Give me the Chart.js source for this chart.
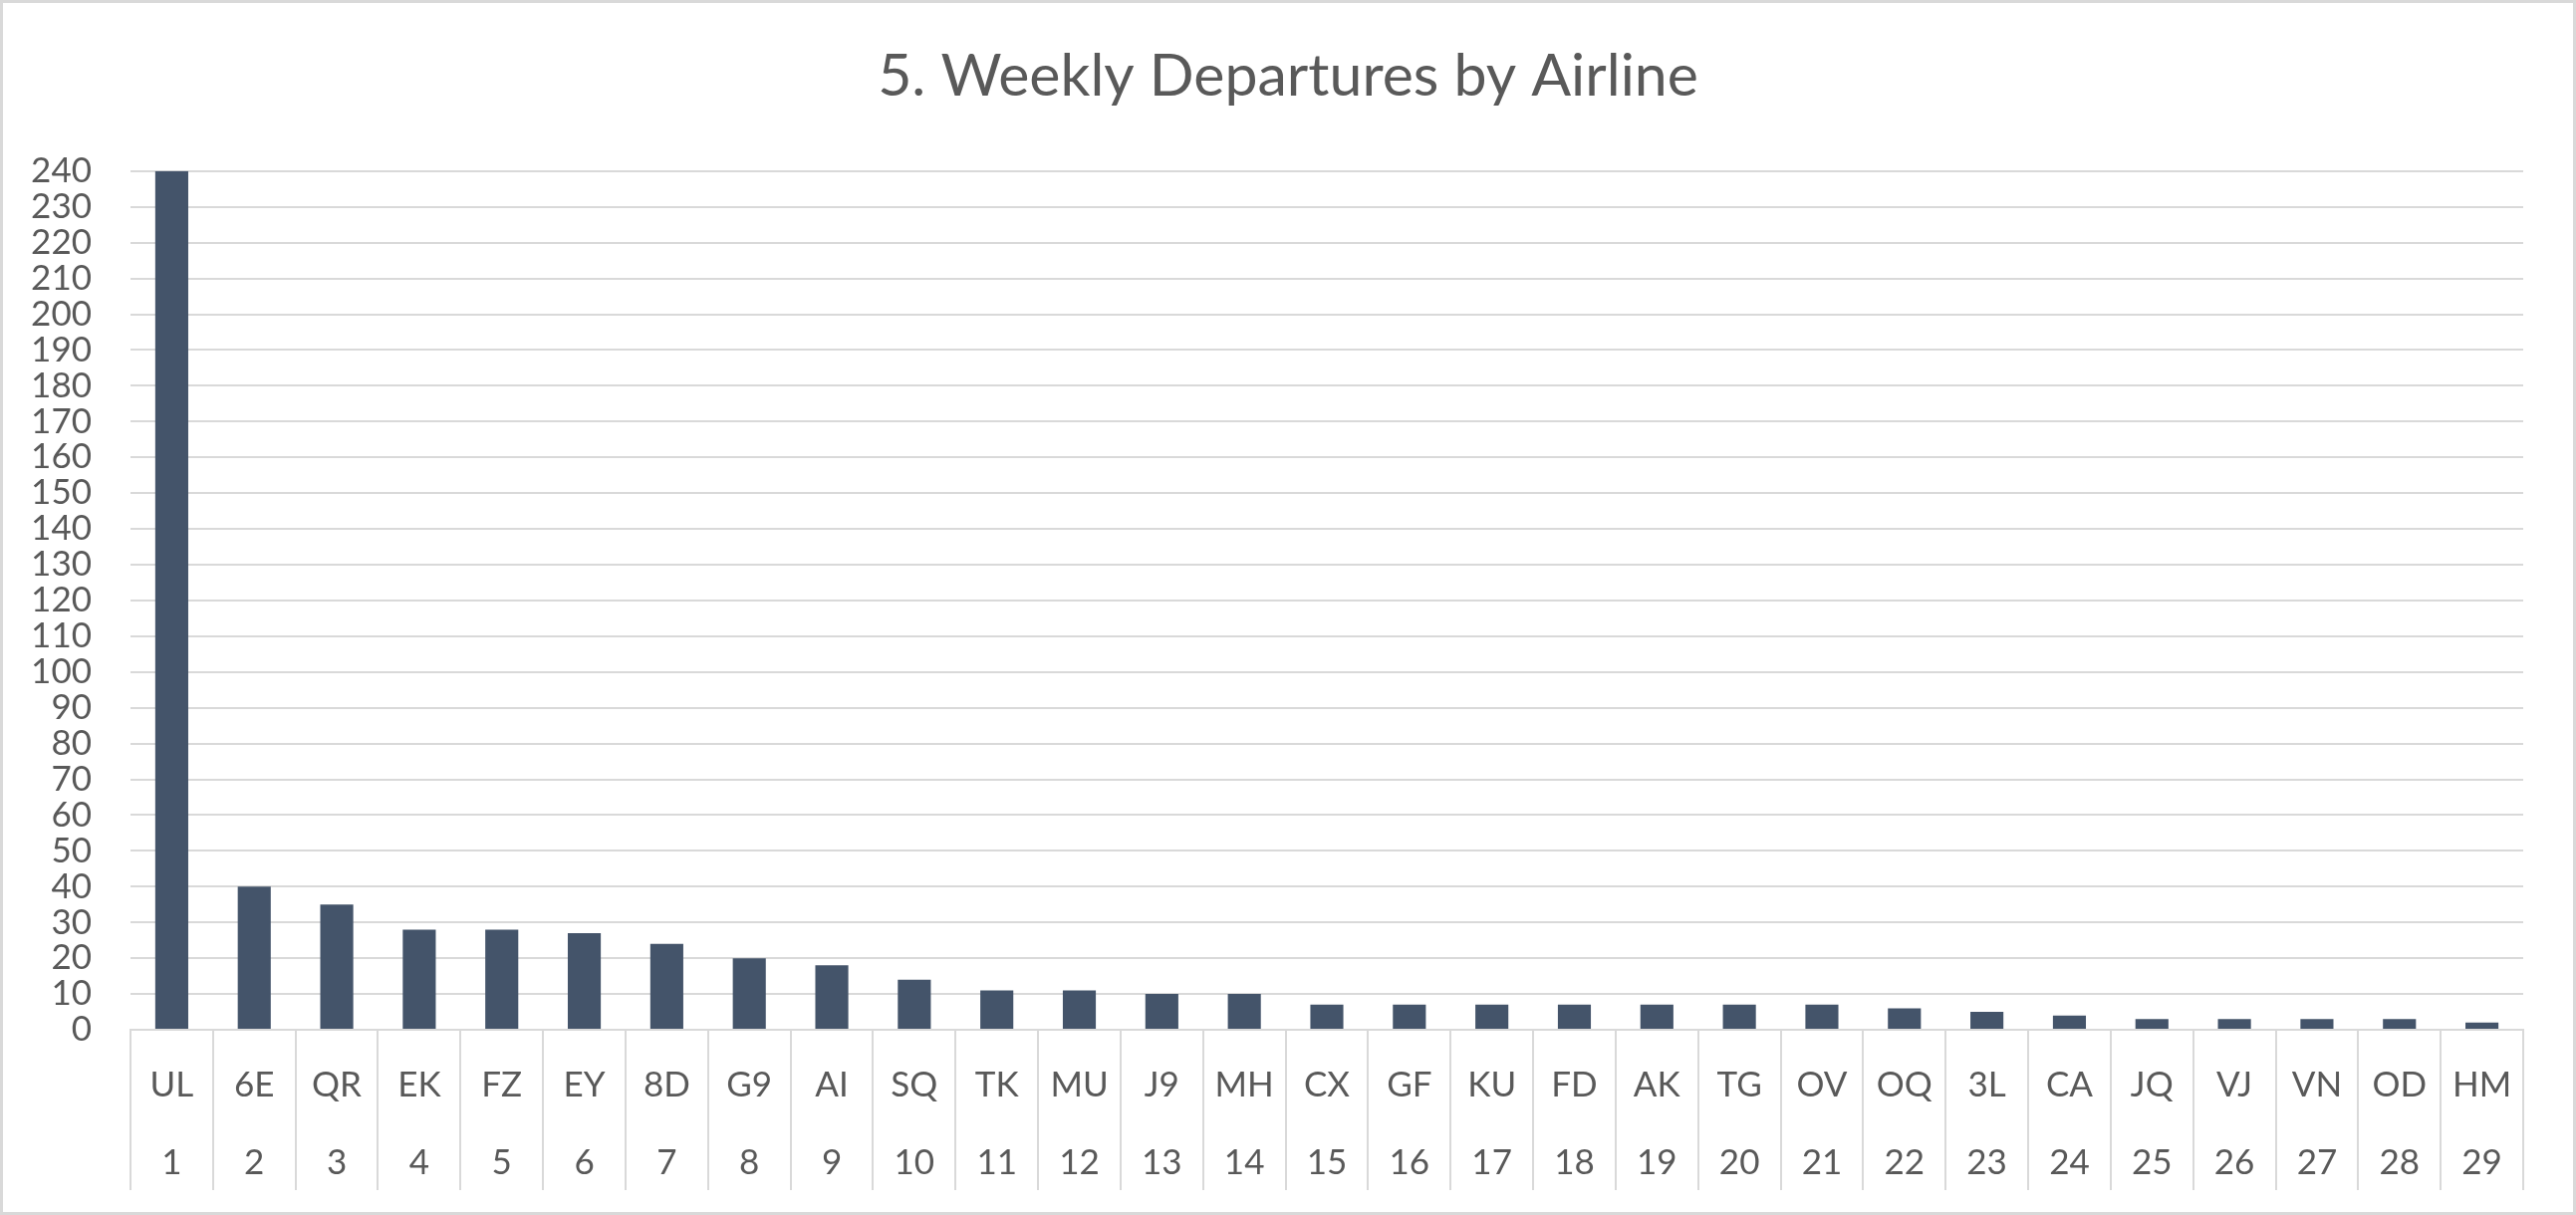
<!DOCTYPE html>
<html lang="en">
  <head>
    <meta charset="UTF-8" />
    <title>Weekly Departures by Airline</title>
    <script src="https://cdn.jsdelivr.net/npm/chart.js"></script>
    <style>
      html, body { margin: 0; padding: 0; background: #ffffff; }
      #frame {
        width: 2586px;
        height: 1220px;
        box-sizing: border-box;
        border: 3px solid #d9d9d9;
        background: #ffffff;
      }
      canvas { display: block; }
    </style>
  </head>
  <body>
    <div id="frame">
      <canvas id="chart" width="2580" height="1214"></canvas>
    </div>

    <script>
      // airline codes in rank order
      const airlines = [
        "UL", "6E", "QR", "EK", "FZ", "EY", "8D", "G9", "AI", "SQ",
        "TK", "MU", "J9", "MH", "CX", "GF", "KU", "FD", "AK", "TG",
        "OV", "OQ", "3L", "CA", "JQ", "VJ", "VN", "OD", "HM",
      ];
      const ranks = [
        "1", "2", "3", "4", "5", "6", "7", "8", "9", "10",
        "11", "12", "13", "14", "15", "16", "17", "18", "19", "20",
        "21", "22", "23", "24", "25", "26", "27", "28", "29",
      ];
      const departures = [
        240, 40, 35, 28, 28, 27, 24, 20, 18, 14,
        11, 11, 10, 10, 7, 7, 7, 7, 7, 7,
        7, 6, 5, 4, 3, 3, 3, 3, 2,
      ];

      const TEXT = "#595959";
      const LINE = "#d9d9d9";
      const FONT = "Lato, 'Open Sans', sans-serif";

      // two level category labels: code on top, rank below
      const labels = airlines.map((code, i) => [code, ranks[i]]);

      const ctx = document.getElementById("chart").getContext("2d");
      const chart = new Chart(ctx, {
        type: "bar",
        data: {
          labels: labels,
          datasets: [
            {
              label: "Weekly departures",
              data: departures,
              backgroundColor: "#44546a",
              borderWidth: 0,
              barPercentage: 0.4,
              categoryPercentage: 1.0,
            },
          ],
        },
        options: {
          responsive: false,
          devicePixelRatio: 1,
          animation: false,
          layout: {
            padding: { left: 0, right: 0, top: 0, bottom: 10 },
          },
          plugins: {
            legend: { display: false },
            tooltip: { enabled: false },
            title: {
              display: true,
              text: "5. Weekly Departures by Airline",
              color: TEXT,
              font: { family: FONT, size: 59, weight: "normal", lineHeight: 1.2 },
              padding: { top: 39, bottom: 59 },
            },
          },
          scales: {
            x: {
              offset: true,
              grid: {
                offset: true,
                drawOnChartArea: false,
                drawTicks: true,
                tickLength: 161,
                color: LINE,
                lineWidth: 2,
              },
              border: { display: true, color: LINE, width: 2 },
              ticks: {
                color: TEXT,
                padding: -144,
                autoSkip: false,
                maxRotation: 0,
                font: { family: FONT, size: 35, lineHeight: 2.23 },
              },
              // label block sits inside the separator lines;
              // right gap kept on the axis so the title stays centred
              afterFit: function (scale) {
                scale.height = 173;
                scale.paddingRight = 50;
              },
            },
            y: {
              min: 0,
              max: 240,
              grid: {
                color: LINE,
                lineWidth: 2,
                drawTicks: false,
              },
              border: { display: false },
              ticks: {
                stepSize: 10,
                autoSkip: false,
                color: TEXT,
                padding: 39,
                font: { family: FONT, size: 35 },
              },
              afterFit: function (scale) {
                scale.width = 128;
              },
            },
          },
        },
      });
    </script>
  </body>
</html>
